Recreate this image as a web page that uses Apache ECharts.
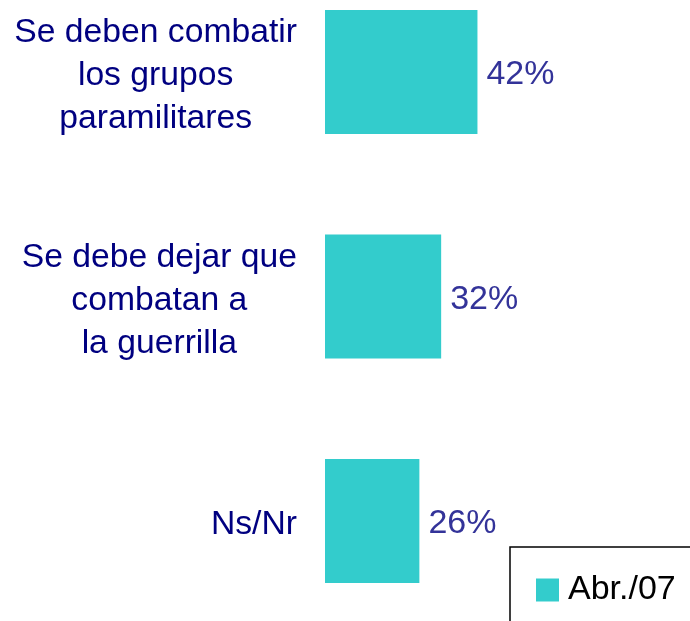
<!DOCTYPE html>
<html>
<head>
<meta charset="utf-8">
<script src="https://cdn.jsdelivr.net/npm/echarts@6/dist/echarts.min.js"></script>
<style>
    html, body { margin: 0; padding: 0; background: #ffffff; }
    #main { width: 690px; height: 621px; }
</style>
</head>
<body>
<div id="main"></div>
<script>
// Chart data
const categories = [
    "Se deben combatir\nlos grupos\nparamilitares",
    "Se debe dejar que\ncombatan a\nla guerrilla",
    "Ns/Nr",
];
const seriesName = "Abr./07";
const values = [42, 32, 26];

const chart = echarts.init(document.getElementById("main"));

// wrap each line in a centered rich token, so lines are centered inside a right-aligned block
const centerLines = (text) => text.split("\n").map((l) => "{c|" + l + "}").join("\n");

const options = {
    backgroundColor: "#ffffff",
    animation: false,
    // categories sit on the grid edges (boundaryGap false), bars are not clipped
    grid: {
        left: 325,
        width: 363,
        top: 72,
        height: 449,
    },
    xAxis: {
        type: "value",
        min: 0,
        max: 100,
        show: false,
    },
    yAxis: {
        type: "category",
        inverse: true,
        boundaryGap: false,
        data: categories,
        axisLine: { show: false },
        axisTick: { show: false },
        splitLine: { show: false },
        axisLabel: {
            margin: 28,
            align: "right",
            padding: [8, 0, 0, 0],
            formatter: centerLines,
            rich: {
                c: {
                    align: "center",
                    fontFamily: "Liberation Sans, Arial, sans-serif",
                    fontSize: 33.7,
                    lineHeight: 43,
                    color: "#000080",
                },
            },
        },
    },
    legend: {
        left: 510,
        top: 547,
        orient: "vertical",
        borderColor: "#000000",
        borderWidth: 1.5,
        padding: [26, 60, 60, 26],
        itemWidth: 23,
        itemHeight: 23,
        icon: "rect",
        textStyle: {
            fontFamily: "Liberation Sans, Arial, sans-serif",
            fontSize: 34,
            color: "#000000",
            padding: [0, 0, 0, 4],
        },
        data: [seriesName],
    },
    series: [
        {
            name: seriesName,
            type: "bar",
            color: "#33CCCC",
            barWidth: 124,
            clip: false,
            data: values,
            label: {
                show: true,
                position: "right",
                distance: 9,
                offset: [0, 3],
                formatter: "{c}%",
                fontFamily: "Liberation Sans, Arial, sans-serif",
                fontSize: 34,
                color: "#333399",
            },
        },
    ],
};

chart.setOption(options);
</script>
</body>
</html>
